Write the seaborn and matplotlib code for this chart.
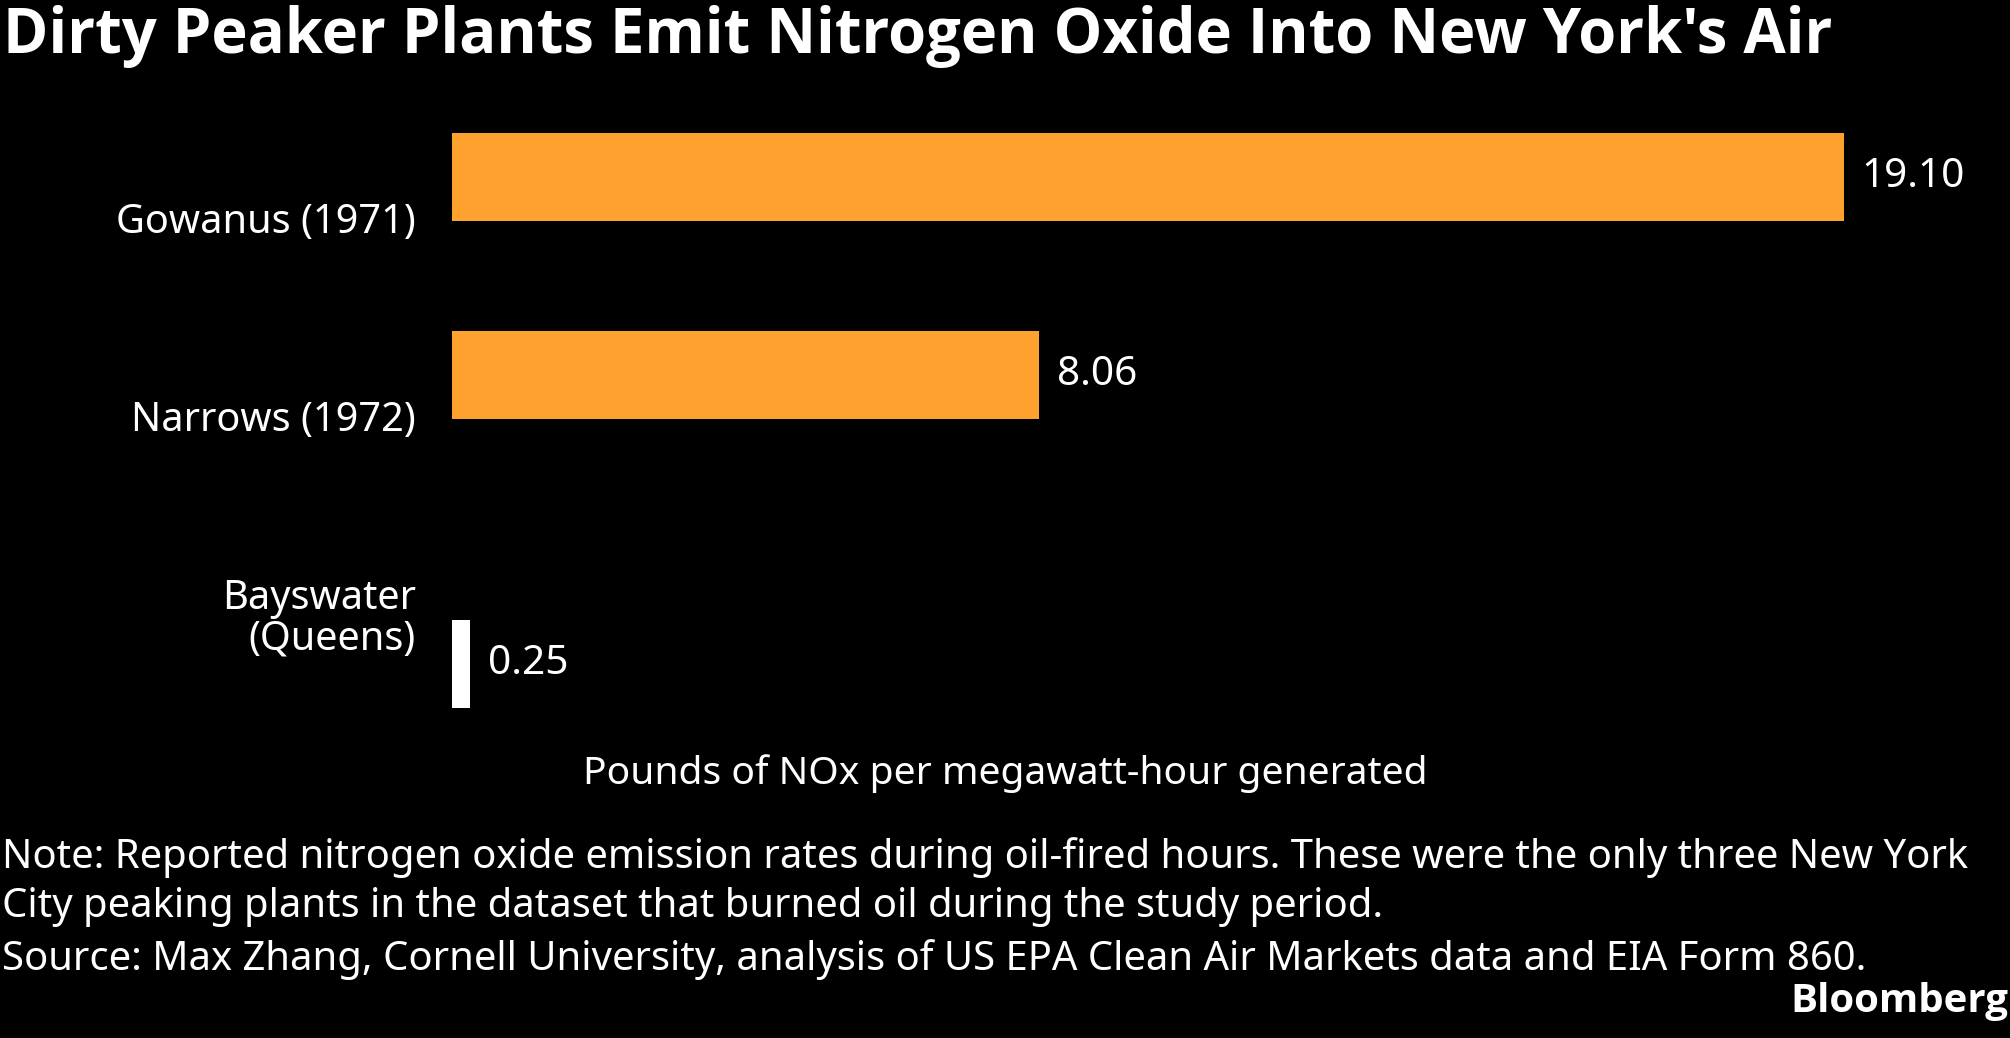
import numpy as np
import pandas as pd
import matplotlib
matplotlib.use("Agg")
import matplotlib.pyplot as plt
import matplotlib.transforms as mtransforms
import seaborn as sns

# ---------------- data ----------------
plants = ["Gowanus (1971)", "Narrows (1972)", "Bayswater\n(Queens)"]
nox_rate = [19.10, 8.06, 0.25]
bar_colors = ["#FFA12E", "#FFA12E", "#FFFFFF"]

title = "Dirty Peaker Plants Emit Nitrogen Oxide Into New York's Air"
x_label = "Pounds of NOx per megawatt-hour generated"
note_lines = [
    "Note: Reported nitrogen oxide emission rates during oil-fired hours. These were the only three New York",
    "City peaking plants in the dataset that burned oil during the study period.",
]
source = "Source: Max Zhang, Cornell University, analysis of US EPA Clean Air Markets data and EIA Form 860."
brand = "Bloomberg"

# ---------------- style ----------------
sns.set_theme(style="dark", rc={
    "figure.facecolor": "black",
    "axes.facecolor": "black",
    "savefig.facecolor": "black",
    "text.color": "white",
})
plt.rcParams["font.family"] = ["Noto Sans", "DejaVu Sans"]
BOLD_FAMILY = ["Open Sans", "DejaVu Sans"]

W, H, DPI = 2010, 1038, 100
fig = plt.figure(figsize=(W / DPI, H / DPI), dpi=DPI)

# layout (pixels)
ROW = 198.0          # px between rows of single-line labels
EXTRA_LINE = 91.0    # extra px for each additional label line
BAR_FRAC = 0.445     # bar thickness as fraction of ROW
n_lines = [p.count("\n") + 1 for p in plants]
pos = [0.0]
for k in range(1, len(plants)):
    pos.append(pos[-1] + 1.0 + (n_lines[k] - 1) * EXTRA_LINE / ROW)

half = BAR_FRAC / 2
ax_top_px, ax_left_px, ax_right_px = 133, 452, 1844
ax_h_px = (pos[-1] + BAR_FRAC) * ROW
ax = fig.add_axes([ax_left_px / W, 1 - (ax_top_px + ax_h_px) / H,
                   (ax_right_px - ax_left_px) / W, ax_h_px / H])

df = pd.DataFrame({"plant": plants, "rate": nox_rate, "pos": pos})
sns.barplot(data=df, x="rate", y="pos", hue="plant",
            palette=dict(zip(plants, bar_colors)), orient="y",
            native_scale=True, width=BAR_FRAC, dodge=False,
            saturation=1, legend=False, ax=ax, linewidth=0)

ax.set_xlim(0, max(nox_rate))
ax.set_ylim(pos[-1] + half, -half)
ax.set_axis_off()

# value labels
for c in ax.containers:
    ax.bar_label(c, fmt="{:.2f}", padding=12.5, color="white", fontsize=29.2)

# category labels (last-line baseline offset from bar centre, px downward)
for p, y, n in zip(plants, pos, n_lines):
    off_y = 56 - 71 * (n - 1)
    tr = mtransforms.blended_transform_factory(ax.transData, ax.transData) + \
        mtransforms.ScaledTranslation(-36 / DPI, -off_y / DPI, fig.dpi_scale_trans)
    ax.text(0, y, p, ha="right", va="baseline", transform=tr,
            color="white", fontsize=28.6, linespacing=1.0)

# titles and footer
fig.text(3 / W, 1 - 53 / H, title, fontsize=44.3, fontweight="bold",
         family=BOLD_FAMILY, color="white", va="baseline", ha="left")
fig.text(0.5, 1 - 784 / H, x_label, fontsize=28.1, color="white",
         va="baseline", ha="center")
for line, yb in zip(note_lines, [868, 917]):
    fig.text(2 / W, 1 - yb / H, line, fontsize=28.8, color="white",
             va="baseline", ha="left")
fig.text(2 / W, 1 - 970 / H, source, fontsize=28.8, color="white",
         va="baseline", ha="left")
fig.text(2008 / W, 1 - 1012 / H, brand, fontsize=29, fontweight="bold",
         family=BOLD_FAMILY, color="white", va="baseline", ha="right")

fig.savefig("out.png", dpi=DPI, facecolor="black")
